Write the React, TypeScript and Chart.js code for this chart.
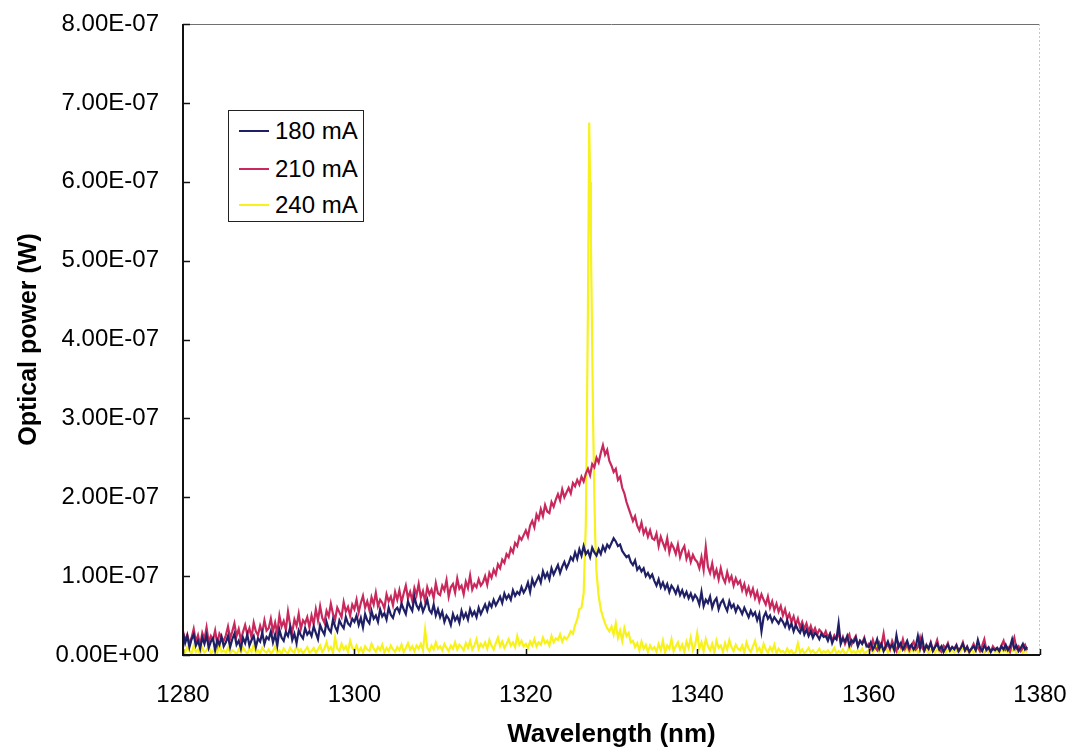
import React, { useEffect, useRef } from "react";
import { Chart, registerables } from "chart.js";

Chart.register(...registerables);

// Sampling grid (nm): every series is sampled from 1280 nm in 0.25 nm steps
const WL_START = 1280;
const WL_STEP = 0.25;
const X_TICKS = [1280, 1300, 1320, 1340, 1360, 1380];
const SERIES_NAMES = ["180 mA", "210 mA", "240 mA"];

// Optical power values in nW (1e-9 W); one row = 5 nm (20 samples)
const power180 = [
  28, 15, 24, 10, 20, 26, 12, 18, 8, 22, 14, 25, 9, 17, 21, 6, 19, 13, 23, 11,
  16, 24, 10, 20, 27, 13, 18, 8, 22, 15, 26, 12, 19, 24, 10, 21, 17, 28, 14, 23,
  20, 30, 16, 26, 12, 32, 22, 18, 29, 24, 35, 19, 27, 15, 31, 25, 21, 34, 26, 30,
  24, 36, 28, 20, 38, 31, 26, 42, 33, 29, 45, 36, 30, 44, 38, 34, 48, 40, 37, 46,
  42, 50, 38, 47, 35, 52, 44, 40, 56, 46, 50, 42, 58, 49, 53, 45, 60, 51, 47, 57,
  60, 54, 65, 58, 52, 68, 61, 56, 74, 63, 58, 66, 55, 62, 70, 57, 53, 64, 50, 58,
  48, 55, 42, 50, 46, 38, 52, 44, 49, 41, 56, 47, 53, 45, 58, 50, 55, 48, 60, 52,
  58, 64, 56, 66, 61, 70, 63, 68, 74, 66, 78, 71, 76, 70, 82, 75, 80, 77, 86, 79,
  84, 92, 80, 96, 88, 94, 100, 92, 106, 98, 104, 96, 110, 102, 108, 114, 104, 112, 118, 110,
  116, 124, 120, 130, 122, 134, 126, 138, 128, 132, 124, 136, 130, 126, 134, 128, 138, 132, 140, 136,
  142, 148, 144, 138, 140, 132, 128, 124, 126, 118, 114, 120, 108, 112, 106, 110, 100, 104, 98, 102,
  94, 88, 96, 86, 92, 84, 90, 80, 88, 84, 78, 86, 76, 82, 74, 80, 72, 78, 70, 76,
  72, 64, 80, 62, 70, 66, 74, 60, 68, 72, 58, 66, 70, 62, 56, 68, 60, 64, 55, 62,
  58, 52, 60, 54, 48, 56, 50, 54, 44, 52, 30, 48, 54, 46, 50, 42, 48, 44, 40, 46,
  42, 36, 44, 34, 40, 30, 38, 32, 28, 36, 26, 32, 24, 30, 22, 28, 25, 20, 27, 23,
  24, 18, 26, 15, 22, 20, 40, 14, 21, 17, 24, 12, 19, 16, 22, 11, 18, 14, 20, 12,
  10, 16, 7, 12, 20, 8, 14, 5, 11, 17, 9, 13, 6, 25, 10, 15, 7, 12, 18, 9,
  13, 7, 11, 24, 9, 22, 6, 12, 8, 15, 5, 10, 14, 7, 11, 4, 9, 13, 6, 10,
  7, 12, 5, 9, 14, 6, 10, 4, 8, 11, 6, 19, 9, 5, 12, 7, 10, 4, 8, 6,
  9, 5, 11, 7, 13, 6, 10, 20, 8, 12, 5, 9, 14, 7, 10,
];

const power210 = [
  30, 18, 26, 14, 22, 33, 17, 25, 12, 28, 20, 35, 16, 24, 19, 31, 14, 27, 22, 18,
  25, 36, 21, 30, 40, 24, 33, 19, 29, 38, 26, 34, 22, 41, 30, 25, 37, 28, 44, 31,
  34, 46, 30, 41, 27, 50, 36, 43, 32, 55, 38, 29, 45, 37, 52, 33, 44, 40, 48, 35,
  50, 39, 58, 44, 62, 47, 41, 56, 49, 65, 52, 45, 60, 54, 48, 67, 55, 61, 50, 64,
  58, 70, 54, 66, 75, 60, 68, 57, 73, 64, 79, 62, 70, 66, 59, 77, 68, 74, 63, 80,
  70, 82, 67, 78, 88, 72, 80, 69, 85, 76, 90, 73, 81, 68, 86, 77, 83, 72, 91, 78,
  76, 88, 82, 95, 74, 86, 90, 79, 97, 84, 88, 77, 93, 85, 101, 83, 90, 86, 96, 88,
  92, 100, 89, 104, 98, 108, 102, 115, 110, 121, 117, 128, 124, 135, 130, 142, 138, 150, 146, 152,
  158, 150, 164, 170, 162, 178, 172, 185, 176, 190, 182, 180, 194, 188, 197, 204, 196, 210, 200, 206,
  212, 205, 218, 214, 222, 216, 226, 220, 230, 236, 228, 242, 238, 250, 244, 256, 266, 254, 260, 246,
  240, 232, 236, 222, 226, 212, 205, 194, 186, 178, 170, 176, 164, 158, 168, 154, 160, 150, 158, 148,
  146, 154, 138, 150, 142, 135, 148, 130, 141, 136, 128, 140, 124, 133, 138, 122, 130, 118, 127, 121,
  118, 110, 124, 108, 137, 112, 104, 116, 100, 108, 96, 110, 98, 92, 105, 94, 100, 88, 97, 90,
  94, 82, 90, 78, 86, 76, 84, 72, 80, 68, 77, 70, 64, 74, 60, 68, 57, 65, 55, 62,
  50, 58, 46, 52, 42, 49, 38, 46, 35, 42, 33, 40, 30, 37, 28, 34, 26, 32, 29, 24,
  30, 22, 27, 18, 25, 20, 29, 16, 23, 14, 21, 26, 13, 19, 24, 12, 18, 15, 22, 11,
  14, 8, 19, 10, 6, 16, 12, 27, 9, 14, 7, 18, 11, 5, 15, 10, 20, 8, 13, 6,
  12, 17, 7, 10, 22, 9, 5, 13, 8, 16, 6, 11, 19, 7, 4, 12, 9, 15, 6, 10,
  8, 13, 5, 9, 16, 6, 11, 4, 8, 14, 7, 10, 5, 12, 20, 6, 9, 4, 11, 7,
  9, 5, 12, 18, 7, 10, 4, 14, 22, 8, 11, 5, 9, 13, 6,
];

const power240 = [
  8, 3, 10, 5, 2, 12, 4, 7, 1, 9, 3, 6, 11, 2, 5, 8, 3, 14, 4, 6,
  3, 9, 2, 6, 4, 1, 7, 3, 10, 5, 2, 8, 4, 13, 3, 6, 2, 9, 5, 3,
  7, 2, 5, 11, 3, 6, 1, 8, 4, 2, 9, 5, 3, 12, 4, 7, 2, 6, 10, 3,
  5, 9, 3, 7, 12, 4, 8, 16, 6, 10, 3, 22, 8, 5, 14, 7, 11, 4, 18, 9,
  6, 12, 4, 9, 3, 11, 7, 5, 14, 8, 4, 10, 6, 13, 3, 9, 5, 12, 7, 4,
  10, 6, 13, 4, 9, 15, 7, 11, 5, 12, 8, 14, 6, 32, 9, 5, 12, 7, 16, 8,
  11, 6, 14, 9, 5, 12, 8, 16, 7, 13, 10, 6, 15, 9, 18, 7, 12, 20, 8, 14,
  10, 16, 8, 19, 12, 7, 15, 22, 11, 17, 9, 14, 20, 12, 16, 10, 24, 13, 18, 11,
  14, 9, 17, 12, 20, 11, 16, 13, 22, 15, 18, 12, 24, 16, 21, 19, 26, 17, 23, 20,
  24, 30, 27, 38, 45, 58, 60, 78, 165, 440, 600, 390, 200, 105, 75, 58, 48, 40, 34, 30,
  36, 26, 40, 22, 31, 18, 34, 24, 28, 16, 18, 10, 15, 6, 17, 8, 13, 4, 12, 7,
  10, 4, 14, 6, 18, 3, 12, 8, 20, 5, 11, 16, 7, 13, 4, 17, 9, 22, 6, 12,
  28, 8, 16, 5, 20, 11, 6, 14, 3, 18, 9, 12, 4, 15, 7, 19, 10, 5, 13, 8,
  6, 12, 3, 16, 8, 4, 11, 18, 5, 9, 2, 14, 7, 3, 10, 5, 13, 2, 8, 4,
  5, 2, 8, 3, 6, 1, 4, 15, 3, 7, 2, 5, 9, 3, 6, 2, 4, 8, 2, 5,
  3, 6, 2, 4, 9, 2, 5, 3, 7, 1, 4, 10, 3, 5, 2, 6, 3, 8, 2, 4,
  6, 11, 3, 8, 14, 4, 9, 5, 12, 3, 7, 10, 4, 8, 2, 6, 13, 5, 9, 3,
  7, 4, 10, 3, 6, 12, 5, 8, 2, 6, 9, 3, 7, 4, 11, 5, 3, 8, 4, 6,
  3, 7, 2, 5, 9, 4, 6, 2, 8, 3, 5, 10, 4, 6, 2, 7, 3, 5, 9, 4,
  5, 2, 8, 4, 6, 3, 11, 5, 7, 2, 6, 9, 3, 5, 4,
];

// Extra finely-resolved samples of the 240 mA lasing peak
const spike240Wl = [1327.1, 1327.4, 1327.6, 1327.85, 1328.1];
const spike240P = [260, 675, 520, 300, 150];

const COLORS = ["#1f1f66", "#c8285c", "#f7f21c"];
const FONT = "'Liberation Sans', Arial, Helvetica, sans-serif";

type Pt = { x: number; y: number };

const gridPoints = (vals: number[]): Pt[] =>
  vals.map((v, i) => ({ x: WL_START + i * WL_STEP, y: v * 1e-9 }));

const fmtSci = (v: number): string => {
  if (v === 0) return "0.00E+00";
  const [m, e] = v.toExponential(2).split("e");
  const ei = parseInt(e, 10);
  return m + "E" + (ei < 0 ? "-" : "+") + String(Math.abs(ei)).padStart(2, "0");
};

const framePlugin = {
  id: "frame",
  afterDatasetsDraw(chart: any) {
    const { ctx, chartArea, scales } = chart;
    const { left, right, top, bottom } = chartArea;
    ctx.save();
    ctx.strokeStyle = "#707070";
    ctx.lineWidth = 1;
    ctx.beginPath();
    ctx.moveTo(left, top + 0.5);
    ctx.lineTo(right, top + 0.5);
    ctx.stroke();
    ctx.strokeStyle = "#c8c8c8";
    ctx.setLineDash([2, 2]);
    ctx.beginPath();
    ctx.moveTo(right - 0.5, top);
    ctx.lineTo(right - 0.5, bottom);
    ctx.stroke();
    ctx.setLineDash([]);
    ctx.strokeStyle = "#111";
    ctx.lineWidth = 2;
    ctx.beginPath();
    ctx.moveTo(left, top);
    ctx.lineTo(left, bottom);
    ctx.lineTo(right, bottom);
    ctx.stroke();
    ctx.lineWidth = 1.5;
    scales.y.ticks.forEach((t: any) => {
      const y = Math.round(scales.y.getPixelForValue(t.value)) + 0.5;
      ctx.beginPath();
      ctx.moveTo(left, y);
      ctx.lineTo(left + 7, y);
      ctx.stroke();
    });
    scales.x.ticks.forEach((t: any) => {
      const x = Math.round(scales.x.getPixelForValue(t.value)) + 0.5;
      ctx.beginPath();
      ctx.moveTo(x, bottom);
      ctx.lineTo(x, bottom - 6);
      ctx.stroke();
    });
    ctx.restore();
  },
};

export default function App() {
  const canvasRef = useRef<HTMLCanvasElement | null>(null);

  useEffect(() => {
    document.body.style.margin = "0";
    document.body.style.overflow = "hidden";
    const canvas = canvasRef.current;
    if (!canvas) return;

    const yellowPts: Pt[] = gridPoints(power240).concat(
      spike240Wl.map((w, i) => ({ x: w, y: spike240P[i] * 1e-9 }))
    );
    yellowPts.sort((a, b) => a.x - b.x);

    const seriesData: Pt[][] = [gridPoints(power180), gridPoints(power210), yellowPts];

    const chart = new Chart(canvas, {
      type: "line",
      data: {
        datasets: SERIES_NAMES.map((name, i) => ({
          label: name,
          data: seriesData[i],
          borderColor: COLORS[i],
          backgroundColor: COLORS[i],
          borderWidth: 2.2,
          pointRadius: 0,
          tension: 0,
          fill: false,
        })),
      },
      options: {
        responsive: false,
        animation: false,
        devicePixelRatio: 1,
        layout: { padding: { left: 0, right: 30, top: 24, bottom: 0 } },
        plugins: { legend: { display: false }, tooltip: { enabled: false } },
        scales: {
          x: {
            type: "linear",
            min: 1280,
            max: 1380,
            afterBuildTicks: (scale: any) => {
              scale.ticks = X_TICKS.map((v) => ({ value: v }));
            },
            afterFit: (scale: any) => {
              scale.height = 98;
              scale.paddingLeft = 0;
              scale.paddingRight = 0;
            },
            grid: { display: false, drawTicks: false },
            border: { display: false },
            ticks: {
              padding: 26,
              maxRotation: 0,
              color: "#000",
              font: { family: FONT, size: 24 },
              callback: (v: any) => String(v),
            },
            title: {
              display: true,
              text: "Wavelength (nm)",
              color: "#000",
              font: { family: FONT, size: 26, weight: "bold" },
              padding: { top: 0, bottom: 3 },
            },
          },
          y: {
            type: "linear",
            min: 0,
            max: 8e-7,
            afterFit: (scale: any) => {
              scale.width = 183;
              scale.paddingTop = 0;
              scale.paddingBottom = 0;
            },
            grid: { display: false, drawTicks: false },
            border: { display: false },
            ticks: {
              stepSize: 1e-7,
              padding: 24,
              color: "#000",
              font: { family: FONT, size: 24 },
              callback: (v: any) => fmtSci(Number(v)),
            },
            title: {
              display: true,
              text: "Optical power (W)",
              color: "#000",
              font: { family: FONT, size: 25, weight: "bold" },
              padding: { top: 14, bottom: 0 },
            },
          },
        },
      },
      plugins: [framePlugin],
    });

    return () => chart.destroy();
  }, []);

  const legendRows = [130, 168, 204];

  return (
    <div style={{ position: "relative", width: 1070, height: 753, background: "#fff" }}>
      <canvas ref={canvasRef} width={1070} height={753} style={{ display: "block" }} />
      <div
        style={{
          position: "absolute",
          left: 228,
          top: 110,
          width: 136,
          height: 112,
          border: "1.5px solid #222",
          background: "#fff",
          boxSizing: "border-box",
          fontFamily: FONT,
          fontSize: 24,
          color: "#000",
        }}
      >
        {SERIES_NAMES.map((name, i) => (
          <div
            key={name}
            style={{
              position: "absolute",
              left: 10,
              top: legendRows[i] - 110 - 14,
              height: 28,
              display: "flex",
              alignItems: "center",
              whiteSpace: "nowrap",
            }}
          >
            <span style={{ display: "inline-block", width: 30, height: 2, background: COLORS[i], marginRight: 6 }} />
            <span>{name}</span>
          </div>
        ))}
      </div>
    </div>
  );
}
